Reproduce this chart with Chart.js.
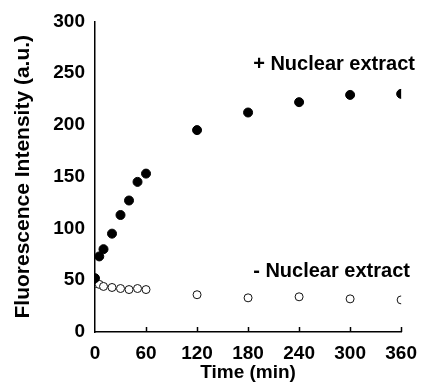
<!DOCTYPE html>
<html>
<head>
<meta charset="utf-8">
<script src="https://cdn.jsdelivr.net/npm/chart.js@4/dist/chart.umd.min.js"></script>
<style>
	html, body { margin: 0; padding: 0; background: #fff; }
	#wrap { width: 427px; height: 384px; }
</style>
</head>
<body>
<div id="wrap"><canvas id="chart" width="427" height="384"></canvas></div>
<script>
// time points (min)
const times = [0, 5, 10, 20, 30, 40, 50, 60, 120, 180, 240, 300, 360];
// + nuclear extract (filled)
const withExtract = [52, 73, 80, 95, 113, 127, 145, 153, 195, 212, 222, 229, 230];
// - nuclear extract (open)
const withoutExtract = [47, 46, 44, 43, 42, 41, 42, 41, 36, 33, 34, 32, 31];
const xTicks = [0, 60, 120, 180, 240, 300, 360];
const seriesLabels = ['+ Nuclear extract', '- Nuclear extract'];

const FONT = '"Liberation Sans", Arial, sans-serif';

function toPoints(ys){
	return times.map((t, i) => ({x: t, y: ys[i]}));
}

// inward tick marks on the x axis + text labels next to the series
const extras = {
	id: 'extras',
	afterDraw(chart){
		const ctx = chart.ctx;
		const xs = chart.scales.x;
		const ys = chart.scales.y;
		ctx.save();
		ctx.strokeStyle = '#000';
		ctx.lineWidth = 1.5;
		xTicks.forEach((t)=>{
			if (t === 0) return;
			const px = Math.round(xs.getPixelForValue(t)) + 0.5;
			ctx.beginPath();
			ctx.moveTo(px, ys.bottom);
			ctx.lineTo(px, ys.bottom - 5);
			ctx.stroke();
		});
		ctx.fillStyle = '#000';
		ctx.font = 'bold 20px ' + FONT;
		ctx.textAlign = 'left';
		ctx.textBaseline = 'middle';
		ctx.fillText(seriesLabels[0], xs.getPixelForValue(186), ys.getPixelForValue(258));
		ctx.fillText(seriesLabels[1], xs.getPixelForValue(186), ys.getPixelForValue(58));
		ctx.restore();
	}
};

new Chart(document.getElementById('chart'), {
	type: 'scatter',
	data: {
		datasets: [
			{
				label: seriesLabels[0],
				data: toPoints(withExtract),
				pointStyle: 'circle',
				pointRadius: 4.5,
				backgroundColor: '#000',
				borderColor: '#000',
				borderWidth: 1
			},
			{
				label: seriesLabels[1],
				data: toPoints(withoutExtract),
				pointStyle: 'circle',
				pointRadius: 4,
				backgroundColor: '#fff',
				borderColor: '#111',
				borderWidth: 1
			}
		]
	},
	options: {
		responsive: false,
		animation: false,
		layout: { padding: { top: 21, right: 23, left: 0, bottom: 0 } },
		plugins: {
			legend: { display: false },
			tooltip: { enabled: false }
		},
		scales: {
			x: {
				type: 'linear',
				min: 0,
				max: 360,
				afterFit(scale){ scale.height = 52; },
				afterBuildTicks(scale){ scale.ticks = xTicks.map((v)=>({value: v})); },
				grid: { display: true, drawOnChartArea: false, drawTicks: false },
				border: { display: true, color: '#000', width: 1.5 },
				ticks: {
					color: '#000',
					padding: 10,
					maxRotation: 0,
					font: { family: FONT, size: 19, weight: 'bold' }
				},
				title: {
					display: true,
					text: 'Time (min)',
					color: '#000',
					padding: 0,
					font: { family: FONT, size: 19, weight: 'bold' }
				}
			},
			y: {
				min: 0,
				max: 300,
				afterFit(scale){ scale.width = 95; },
				grid: { display: true, drawOnChartArea: false, drawTicks: false },
				border: { display: true, color: '#000', width: 1.5 },
				ticks: {
					stepSize: 50,
					color: '#000',
					padding: 10,
					font: { family: FONT, size: 19, weight: 'bold' }
				},
				title: {
					display: true,
					text: 'Fluorescence Intensity (a.u.)',
					color: '#000',
					padding: { top: 11, bottom: 0 },
					font: { family: FONT, size: 21, weight: 'bold' }
				}
			}
		}
	},
	plugins: [extras]
});
</script>
</body>
</html>
